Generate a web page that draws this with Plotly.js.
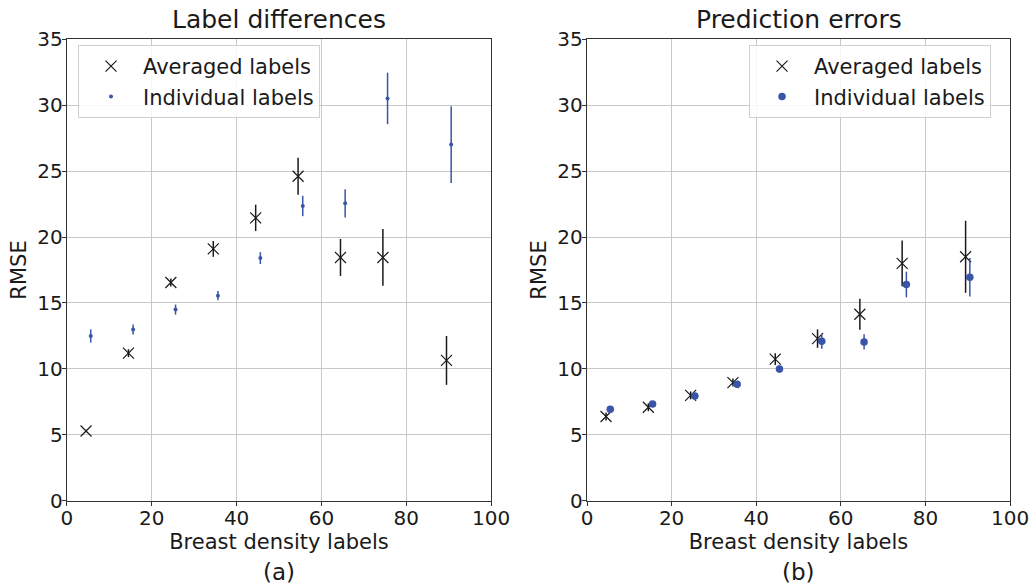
<!DOCTYPE html>
<html>
<head>
<meta charset="utf-8">
<script src="https://cdn.plot.ly/plotly-3.0.1.min.js"></script>
<style>html,body{margin:0;padding:0;background:#fff;}#chart{width:1032px;height:586px;}</style>
</head>
<body>
<div id="chart"></div>
<script>
// Left panel: Label differences
const avgX_a = [4.5, 14.5, 24.5, 34.5, 44.5, 54.5, 64.5, 74.5, 89.5];
const avgY_a = [5.3, 11.2, 16.55, 19.1, 21.45, 24.6, 18.45, 18.45, 10.65];
const avgE_a = [0.1, 0.3, 0.3, 0.6, 1.0, 1.4, 1.4, 2.15, 1.85];
const indX_a = [5.6, 15.6, 25.6, 35.6, 45.6, 55.6, 65.6, 75.6, 90.6];
const indY_a = [12.5, 13.0, 14.5, 15.55, 18.4, 22.35, 22.55, 30.5, 27.0];
const indE_a = [0.5, 0.38, 0.38, 0.35, 0.45, 0.77, 1.07, 1.95, 2.9];
// Right panel: Prediction errors
const avgX_b = [4.5, 14.5, 24.5, 34.5, 44.5, 54.5, 64.5, 74.5, 89.5];
const avgY_b = [6.4, 7.1, 8.0, 8.97, 10.75, 12.3, 14.15, 18.0, 18.5];
const avgE_b = [0.3, 0.3, 0.3, 0.3, 0.45, 0.7, 1.17, 1.74, 2.73];
const indX_b = [5.5, 15.5, 25.5, 35.5, 45.5, 55.5, 65.5, 75.5, 90.5];
const indY_b = [6.95, 7.35, 7.95, 8.85, 10.0, 12.1, 12.05, 16.4, 16.95];
const indE_b = [0.15, 0.15, 0.15, 0.15, 0.3, 0.57, 0.58, 0.97, 1.45];

const xTicks = [0, 20, 40, 60, 80, 100];
const yTicks = [0, 5, 10, 15, 20, 25, 30, 35];

const blue = '#3a55a8';
const dark = '#1a1a1a';
const font = 'DejaVu Sans, sans-serif';

function avgTrace(x, y, e, xa, ya, leg) {
  return {x: x, y: y, type: 'scatter', mode: 'markers', name: 'Averaged labels',
    xaxis: xa, yaxis: ya, legend: leg,
    marker: {symbol: 'x-thin', size: 11, color: dark, line: {color: dark, width: 1.2}},
    error_y: {type: 'data', array: e, visible: true, color: dark, thickness: 1.5, width: 0}};
}
function indTrace(x, y, e, xa, ya, leg, sz) {
  return {x: x, y: y, type: 'scatter', mode: 'markers', name: 'Individual labels',
    xaxis: xa, yaxis: ya, legend: leg,
    marker: {symbol: 'circle', size: sz, color: blue},
    error_y: {type: 'data', array: e, visible: true, color: blue, thickness: 1.5, width: 0}};
}

const data = [
  avgTrace(avgX_a, avgY_a, avgE_a, 'x', 'y', 'legend'),
  indTrace(indX_a, indY_a, indE_a, 'x', 'y', 'legend', 4),
  avgTrace(avgX_b, avgY_b, avgE_b, 'x2', 'y2', 'legend2'),
  indTrace(indX_b, indY_b, indE_b, 'x2', 'y2', 'legend2', 7.5)
];

function xaxis(dom, anchor) {
  return {domain: dom, anchor: anchor, range: [0, 100], tickvals: xTicks, ticktext: xTicks.map(String),
    showgrid: true, gridcolor: '#c8c8c8', gridwidth: 1, zeroline: false,
    showline: true, mirror: true, linecolor: '#333', linewidth: 1.2,
    ticks: 'outside', ticklen: 4, tickcolor: '#333', ticklabelstandoff: -5,
    tickfont: {family: font, size: 20, color: dark},
    title: {text: 'Breast density labels', font: {family: font, size: 21, color: dark}, standoff: 4}};
}
function yaxis(anchor) {
  return {domain: [0.1451, 0.9334], anchor: anchor, range: [0, 35], tickvals: yTicks, ticktext: yTicks.map(String),
    showgrid: true, gridcolor: '#c8c8c8', gridwidth: 1, zeroline: false,
    showline: true, mirror: true, linecolor: '#333', linewidth: 1.2,
    ticks: 'outside', ticklen: 4, tickcolor: '#333', ticklabelstandoff: -5,
    tickfont: {family: font, size: 20, color: dark},
    title: {text: 'RMSE', font: {family: font, size: 21, color: dark}, standoff: 5}};
}

const legendBase = {
  font: {family: font, size: 21, color: dark},
  bgcolor: 'rgba(255,255,255,0.85)', bordercolor: '#d0d0d0', borderwidth: 1,
  xanchor: 'left', yanchor: 'top', tracegroupgap: 0, itemwidth: 54
};

const layout = {
  width: 1032, height: 586,
  margin: {l: 0, r: 0, t: 0, b: 0},
  paper_bgcolor: '#fff', plot_bgcolor: '#fff',
  showlegend: true,
  xaxis: xaxis([0.0649, 0.4758], 'y'),
  yaxis: yaxis('x'),
  xaxis2: xaxis([0.5688, 0.9787], 'y2'),
  yaxis2: yaxis('x2'),
  legend: Object.assign({}, legendBase, {x: 0.0756, y: 0.9232}),
  legend2: Object.assign({}, legendBase, {x: 0.7258, y: 0.9232}),
  annotations: [
    {text: 'Label differences', xref: 'paper', yref: 'paper', x: 0.2704, y: 1 - 20 / 586, showarrow: false,
      xanchor: 'center', yanchor: 'middle', font: {family: font, size: 25, color: dark}},
    {text: 'Prediction errors', xref: 'paper', yref: 'paper', x: 0.7738, y: 1 - 20 / 586, showarrow: false,
      xanchor: 'center', yanchor: 'middle', font: {family: font, size: 25, color: dark}},
    {text: '(a)', xref: 'paper', yref: 'paper', x: 0.2704, y: 1 - 572 / 586, showarrow: false,
      xanchor: 'center', yanchor: 'middle', font: {family: font, size: 23, color: dark}},
    {text: '(b)', xref: 'paper', yref: 'paper', x: 0.7738, y: 1 - 572 / 586, showarrow: false,
      xanchor: 'center', yanchor: 'middle', font: {family: font, size: 23, color: dark}}
  ]
};

Plotly.newPlot('chart', data, layout, {displayModeBar: false, staticPlot: true});
</script>
</body>
</html>
